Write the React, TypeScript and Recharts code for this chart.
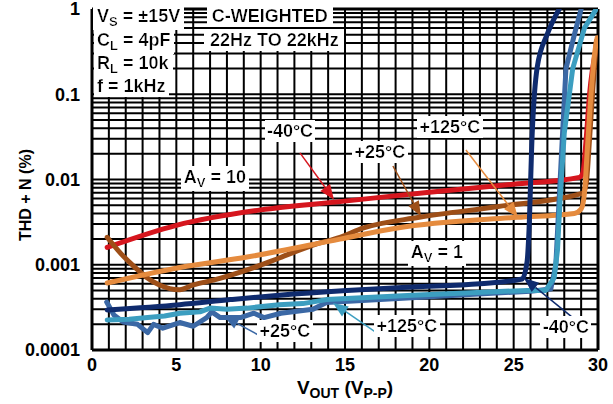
import React from "react";
import { LineChart, Line, XAxis, YAxis, CartesianGrid, ReferenceLine, ReferenceDot } from "recharts";

type Pt = { x: number; y: number };

// A_V = 10 curves
const av10Minus40: Pt[] = [
  { x: 0.9, y: 0.0016 }, { x: 5, y: 0.0029 }, { x: 10, y: 0.0044 }, { x: 14.7, y: 0.0055 },
  { x: 20, y: 0.0071 }, { x: 25, y: 0.0088 }, { x: 28.9, y: 0.0106 }, { x: 29.1, y: 0.012 },
  { x: 29.3, y: 0.03 }, { x: 29.5, y: 0.1 }, { x: 29.9, y: 0.35 },
];
const av10Plus25: Pt[] = [
  { x: 0.9, y: 0.0021 }, { x: 1.7, y: 0.00136 }, { x: 2.5, y: 0.00095 }, { x: 3.2, y: 0.00072 },
  { x: 4.0, y: 0.00058 }, { x: 5.2, y: 0.00051 }, { x: 6.0, y: 0.00058 }, { x: 7.2, y: 0.00066 },
  { x: 9.2, y: 0.00087 }, { x: 11.1, y: 0.0012 }, { x: 13.1, y: 0.0017 }, { x: 14.7, y: 0.0021 },
  { x: 16.1, y: 0.0027 }, { x: 19.4, y: 0.0036 }, { x: 24, y: 0.0048 }, { x: 29.1, y: 0.0069 },
  { x: 29.3, y: 0.009 }, { x: 29.5, y: 0.03 }, { x: 29.7, y: 0.12 }, { x: 29.9, y: 0.42 },
];
const av10Plus125: Pt[] = [
  { x: 0.9, y: 0.00061 }, { x: 5.2, y: 0.00093 }, { x: 9.2, y: 0.00123 }, { x: 14.7, y: 0.002 },
  { x: 18.1, y: 0.0027 }, { x: 25.2, y: 0.0036 }, { x: 28.6, y: 0.004 }, { x: 29.0, y: 0.0045 },
  { x: 29.2, y: 0.007 }, { x: 29.35, y: 0.02 }, { x: 29.55, y: 0.08 }, { x: 29.8, y: 0.3 },
  { x: 29.95, y: 0.46 },
];

// A_V = 1 curves
const av1Minus40: Pt[] = [
  { x: 0.9, y: 0.000295 }, { x: 5.2, y: 0.00034 }, { x: 8.2, y: 0.00039 }, { x: 11.1, y: 0.00044 },
  { x: 15.1, y: 0.0005 }, { x: 19, y: 0.00055 }, { x: 23, y: 0.0006 }, { x: 25.5, y: 0.00068 },
  { x: 25.8, y: 0.0011 }, { x: 25.9, y: 0.0023 }, { x: 26.1, y: 0.035 }, { x: 26.4, y: 0.21 },
  { x: 27.0, y: 0.51 }, { x: 27.7, y: 1.0 },
];
const av1Plus25: Pt[] = [
  { x: 0.87, y: 0.000365 }, { x: 1.3, y: 0.000257 }, { x: 1.85, y: 0.000213 }, { x: 2.7, y: 0.0002 },
  { x: 3.3, y: 0.00016 }, { x: 3.65, y: 0.0002 }, { x: 4.2, y: 0.00018 }, { x: 5.2, y: 0.00021 },
  { x: 6.0, y: 0.00019 }, { x: 6.8, y: 0.00024 }, { x: 7.1, y: 0.00028 }, { x: 7.6, y: 0.00024 },
  { x: 8.8, y: 0.00024 }, { x: 9.6, y: 0.00027 }, { x: 10.2, y: 0.00024 }, { x: 11.2, y: 0.00027 },
  { x: 13.1, y: 0.0003 }, { x: 13.9, y: 0.00036 }, { x: 20, y: 0.00042 }, { x: 26, y: 0.00049 },
  { x: 27.2, y: 0.00052 }, { x: 27.5, y: 0.001 }, { x: 27.7, y: 0.006 }, { x: 27.9, y: 0.035 },
  { x: 28.1, y: 0.2 }, { x: 28.6, y: 0.5 }, { x: 29.0, y: 1.0 },
];
const av1Plus125: Pt[] = [
  { x: 0.9, y: 0.000225 }, { x: 2.2, y: 0.00023 }, { x: 3.3, y: 0.00024 }, { x: 4.3, y: 0.00025 },
  { x: 5.2, y: 0.00027 }, { x: 6.4, y: 0.00028 }, { x: 7.0, y: 0.00031 }, { x: 8.0, y: 0.0003 },
  { x: 9.2, y: 0.00031 }, { x: 11.1, y: 0.00034 }, { x: 12.5, y: 0.00035 }, { x: 13.9, y: 0.00039 },
  { x: 16, y: 0.00041 }, { x: 19, y: 0.00044 }, { x: 22.5, y: 0.00047 }, { x: 25.8, y: 0.0005 },
  { x: 26.9, y: 0.0005 }, { x: 27.4, y: 0.0007 }, { x: 27.6, y: 0.0015 }, { x: 27.75, y: 0.0057 },
  { x: 28.0, y: 0.035 }, { x: 28.5, y: 0.2 }, { x: 29.2, y: 0.6 }, { x: 29.9, y: 1.0 },
];

// axis ticks
const xTicks = Array.from({ length: 31 }, (_, i) => i);
const yDecades = [0.0001, 0.001, 0.01, 0.1, 1];
const yTicks = [...yDecades.slice(0, 4).flatMap((d) => [1, 2, 3, 4, 5, 6, 7, 8, 9].map((k) => k * d)), 1];

const RED = "#d6161e";
const BROWN = "#9e4f18";
const ORANGE = "#e58b3e";
const NAVY = "#0f2b6e";
const STEEL = "#3b68a5";
const LIGHT = "#3c9ec0";

const FONT = "'Liberation Sans', Arial, sans-serif";

type Part = [string, boolean?];
type Note = { x: number; y: number; anchor: "start" | "middle"; parts: Part[] };

const notes: Note[] = [
  { x: 0.3, y: 0.705, anchor: "start", parts: [["V"], ["S", true], [" = ±15V"]] },
  { x: 0.3, y: 0.368, anchor: "start", parts: [["C"], ["L", true], [" = 4pF"]] },
  { x: 0.3, y: 0.198, anchor: "start", parts: [["R"], ["L", true], [" = 10k"]] },
  { x: 0.3, y: 0.106, anchor: "start", parts: [["f = 1kHz"]] },
  { x: 7.1, y: 0.705, anchor: "start", parts: [["C-WEIGHTED"]] },
  { x: 7.0, y: 0.368, anchor: "start", parts: [["22Hz TO 22kHz"]] },
  { x: 11.74, y: 0.0316, anchor: "middle", parts: [["-40°C"]] },
  { x: 17.07, y: 0.0179, anchor: "middle", parts: [["+25°C"]] },
  { x: 21.22, y: 0.0351, anchor: "middle", parts: [["+125°C"]] },
  { x: 7.29, y: 0.0091, anchor: "middle", parts: [["A"], ["V", true], [" = 10"]] },
  { x: 20.45, y: 0.0012, anchor: "middle", parts: [["A"], ["V", true], [" = 1"]] },
  { x: 11.44, y: 0.000142, anchor: "middle", parts: [["+25°C"]] },
  { x: 18.67, y: 0.000163, anchor: "middle", parts: [["+125°C"]] },
  { x: 28.1, y: 0.000158, anchor: "middle", parts: [["-40°C"]] },
];

const arrows = [
  { from: [12.33, 0.0205], to: [14.35, 0.0058], color: RED },
  { from: [17.84, 0.0144], to: [19.5, 0.0037], color: BROWN },
  { from: [22.17, 0.0222], to: [25.25, 0.0036], color: ORANGE },
  { from: [10.08, 0.000142], to: [7.82, 0.00025], color: STEEL },
  { from: [16.9, 0.000158], to: [14.29, 0.000356], color: LIGHT },
  { from: [29.05, 0.000196], to: [25.6, 0.0007], color: NAVY },
];

function renderParts(parts: Part[], big: number, small: number) {
  let prevSub = false;
  return parts.map(([t, sub], i) => {
    let dy = 0;
    if (sub && !prevSub) dy = 4;
    if (!sub && prevSub) dy = -4;
    prevSub = !!sub;
    return (
      <tspan key={i} dy={dy} fontSize={sub ? small : big}>
        {t}
      </tspan>
    );
  });
}

function NoteShape(props: any) {
  const { cx, cy, note, id } = props;
  if (cx == null || cy == null) return null;
  return (
    <g>
      <defs>
        <filter id={id} x="-0.04" y="-0.02" width="1.08" height="1.04">
          <feFlood floodColor="#ffffff" />
          <feComposite in="SourceGraphic" operator="over" />
        </filter>
      </defs>
      <text
        x={cx}
        y={cy}
        dy="0.36em"
        textAnchor={note.anchor}
        filter={`url(#${id})`}
        fontFamily={FONT}
        fontWeight="bold"
        fontSize={18}
        fill="#000"
      >
        {renderParts(note.parts, 18, 13)}
      </text>
    </g>
  );
}

function ArrowShape(props: any) {
  const { x1, y1, x2, y2, color } = props;
  if ([x1, y1, x2, y2].some((v) => v == null || isNaN(v))) return null;
  const ang = Math.atan2(y2 - y1, x2 - x1);
  const len = 15;
  const hw = 6;
  const bx = x2 - len * Math.cos(ang);
  const by = y2 - len * Math.sin(ang);
  const px = -Math.sin(ang) * hw;
  const py = Math.cos(ang) * hw;
  return (
    <g>
      <line x1={x1} y1={y1} x2={bx} y2={by} stroke={color} strokeWidth={1.5} />
      <polygon points={`${x2},${y2} ${bx + px},${by + py} ${bx - px},${by - py}`} fill={color} />
    </g>
  );
}

const fmtY = (v: number) => {
  const l = Math.log10(v);
  return Math.abs(l - Math.round(l)) < 1e-9 ? String(Number(v.toPrecision(1))) : "";
};

export default function App() {
  const lineCommon = {
    dataKey: "y",
    dot: false,
    isAnimationActive: false,
    strokeWidth: 5,
    strokeLinejoin: "round" as const,
    strokeLinecap: "round" as const,
  };
  return (
    <div style={{ width: 613, height: 404, background: "#fff" }}>
      <style>{"body{margin:0}"}</style>
      <LineChart width={613} height={404} margin={{ top: 9, right: 15, bottom: 0, left: 0 }}>
        <CartesianGrid stroke="#000" strokeWidth={2} />
        <XAxis
          dataKey="x"
          type="number"
          domain={[0, 30]}
          ticks={xTicks}
          interval={0}
          allowDataOverflow
          tickLine={false}
          axisLine={{ stroke: "#000", strokeWidth: 3 }}
          tickFormatter={(v: number) => (v % 5 === 0 ? String(v) : "")}
          tick={{ fill: "#000", fontSize: 18, fontWeight: "bold", fontFamily: FONT }}
          tickMargin={2}
          height={54}
          label={{
            content: (p: any) => {
              const vb = p.viewBox || { x: 92, y: 350, width: 506 };
              return (
                <text
                  x={vb.x + vb.width / 2}
                  y={vb.y + 44}
                  textAnchor="middle"
                  fontFamily={FONT}
                  fontWeight="bold"
                  fontSize={19}
                  fill="#000"
                >
                  {renderParts([["V"], ["OUT", true], [" (V"], ["P-P", true], [")"]], 19, 14)}
                </text>
              );
            },
          }}
        />
        <YAxis
          type="number"
          scale="log"
          domain={[0.0001, 1]}
          ticks={yTicks}
          interval={0}
          allowDataOverflow
          tickLine={false}
          axisLine={{ stroke: "#000", strokeWidth: 3 }}
          tickFormatter={fmtY}
          tick={{ fill: "#000", fontSize: 18, fontWeight: "bold", fontFamily: FONT }}
          tickMargin={6}
          width={92}
          label={{
            content: () => (
              <text
                x={25}
                y={195}
                transform="rotate(-90 25 195)"
                textAnchor="middle"
                dy="0.35em"
                fontFamily={FONT}
                fontWeight="bold"
                fontSize={16}
                fill="#000"
              >
                THD + N (%)
              </text>
            ),
          }}
        />
        <ReferenceLine x={30} stroke="#000" strokeWidth={3} ifOverflow="visible" />
        <ReferenceLine y={1} stroke="#000" strokeWidth={3} ifOverflow="visible" />

        <Line {...lineCommon} data={av10Minus40} stroke={RED} type="monotone" name="-40°C A_V=10" />
        <Line {...lineCommon} data={av10Plus25} stroke={BROWN} type="monotone" name="+25°C A_V=10" />
        <Line {...lineCommon} data={av10Plus125} stroke={ORANGE} type="monotone" name="+125°C A_V=10" />
        <Line {...lineCommon} data={av1Plus25} stroke={STEEL} type="linear" name="+25°C A_V=1" />
        <Line {...lineCommon} data={av1Plus125} stroke={LIGHT} type="linear" name="+125°C A_V=1" />
        <Line {...lineCommon} data={av1Minus40} stroke={NAVY} type="monotone" name="-40°C A_V=1" />

        {arrows.map((a, i) => (
          <ReferenceLine
            key={`a${i}`}
            segment={[
              { x: a.from[0], y: a.from[1] },
              { x: a.to[0], y: a.to[1] },
            ]}
            ifOverflow="visible"
            shape={(p: any) => <ArrowShape {...p} color={a.color} />}
          />
        ))}
        {notes.map((n, i) => (
          <ReferenceDot
            key={`n${i}`}
            x={n.x}
            y={n.y}
            r={1}
            ifOverflow="visible"
            shape={(p: any) => <NoteShape {...p} note={n} id={`nbg${i}`} />}
          />
        ))}
      </LineChart>
    </div>
  );
}
